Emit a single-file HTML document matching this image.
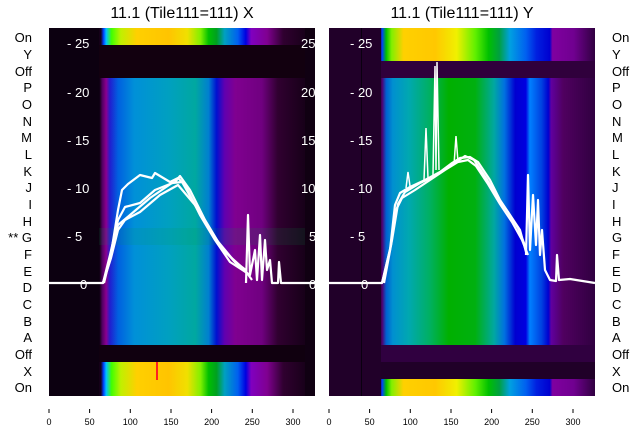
<!DOCTYPE html>
<html><head><meta charset="utf-8"><style>
body{margin:0;background:#fff;}
svg{display:block;font-family:"Liberation Sans","DejaVu Sans",sans-serif;}
</style></head><body>
<svg width="640" height="440" viewBox="0 0 640 440">
<defs>
<linearGradient id="lm" x1="0" x2="1">
<stop offset="0" stop-color="#0c0010"/><stop offset="0.19" stop-color="#0e0012"/>
<stop offset="0.20" stop-color="#500060"/><stop offset="0.215" stop-color="#8a0090"/>
<stop offset="0.23" stop-color="#2020d0"/><stop offset="0.26" stop-color="#0060e0"/>
<stop offset="0.32" stop-color="#0090d8"/><stop offset="0.45" stop-color="#00a0c0"/>
<stop offset="0.55" stop-color="#00a8a0"/><stop offset="0.60" stop-color="#0080d0"/>
<stop offset="0.63" stop-color="#0010d0"/><stop offset="0.66" stop-color="#6000b0"/>
<stop offset="0.70" stop-color="#800090"/><stop offset="0.80" stop-color="#700080"/>
<stop offset="0.86" stop-color="#300030"/><stop offset="1" stop-color="#0e0010"/>
</linearGradient>
<linearGradient id="lon" x1="0" x2="1">
<stop offset="0" stop-color="#0c0010"/><stop offset="0.195" stop-color="#150018"/>
<stop offset="0.205" stop-color="#0040ff"/><stop offset="0.215" stop-color="#00c0ff"/>
<stop offset="0.235" stop-color="#40ff00"/><stop offset="0.27" stop-color="#c0f000"/>
<stop offset="0.33" stop-color="#ffd000"/><stop offset="0.45" stop-color="#ffc400"/>
<stop offset="0.52" stop-color="#f0e000"/><stop offset="0.57" stop-color="#80f000"/>
<stop offset="0.60" stop-color="#00c000"/><stop offset="0.63" stop-color="#00a020"/>
<stop offset="0.66" stop-color="#00a0c0"/><stop offset="0.71" stop-color="#0060f0"/>
<stop offset="0.74" stop-color="#0000e0"/><stop offset="0.76" stop-color="#8000c0"/>
<stop offset="0.82" stop-color="#800090"/><stop offset="0.88" stop-color="#300030"/>
<stop offset="1" stop-color="#0e0010"/>
</linearGradient>
<linearGradient id="rm" x1="0" x2="1">
<stop offset="0" stop-color="#200028"/><stop offset="0.19" stop-color="#22002c"/>
<stop offset="0.20" stop-color="#500070"/><stop offset="0.215" stop-color="#0060d0"/>
<stop offset="0.24" stop-color="#0090d0"/><stop offset="0.30" stop-color="#00a8b0"/>
<stop offset="0.38" stop-color="#00b060"/><stop offset="0.45" stop-color="#00b000"/>
<stop offset="0.55" stop-color="#00b010"/><stop offset="0.62" stop-color="#00a8a0"/>
<stop offset="0.66" stop-color="#0070e0"/><stop offset="0.70" stop-color="#0000d0"/>
<stop offset="0.74" stop-color="#0000e0"/><stop offset="0.755" stop-color="#0080ff"/>
<stop offset="0.80" stop-color="#0040e0"/><stop offset="0.825" stop-color="#0000d0"/>
<stop offset="0.835" stop-color="#6000a0"/><stop offset="0.88" stop-color="#500060"/>
<stop offset="1" stop-color="#300040"/>
</linearGradient>
<linearGradient id="ron" x1="0" x2="1">
<stop offset="0" stop-color="#200028"/><stop offset="0.19" stop-color="#22002c"/>
<stop offset="0.20" stop-color="#0040ff"/><stop offset="0.215" stop-color="#00c000"/>
<stop offset="0.235" stop-color="#80f000"/><stop offset="0.28" stop-color="#ffd000"/>
<stop offset="0.40" stop-color="#ffc800"/><stop offset="0.48" stop-color="#f0f000"/>
<stop offset="0.55" stop-color="#60f000"/><stop offset="0.60" stop-color="#00c000"/>
<stop offset="0.64" stop-color="#00a040"/><stop offset="0.68" stop-color="#00a0e0"/>
<stop offset="0.74" stop-color="#0060f0"/><stop offset="0.78" stop-color="#0020e0"/>
<stop offset="0.83" stop-color="#0000d0"/><stop offset="0.84" stop-color="#8000a0"/>
<stop offset="0.92" stop-color="#700090"/><stop offset="1" stop-color="#300040"/>
</linearGradient>
</defs>

<!-- Left panel -->
<rect x="49" y="28" width="266" height="368" fill="#0e0010"/>
<rect x="49" y="28" width="266" height="17" fill="url(#lon)"/>
<rect x="49" y="45" width="266" height="33" fill="#12000f"/>
<rect x="49" y="78" width="266" height="267" fill="url(#lm)"/>
<rect x="49" y="228" width="266" height="17" fill="#00a040" opacity="0.12"/>
<rect x="49" y="345" width="266" height="17" fill="#10000f"/>
<rect x="49" y="362" width="266" height="34" fill="url(#lon)"/>
<rect x="49" y="28" width="50" height="368" fill="#0c0010"/>
<rect x="305" y="28" width="10" height="368" fill="#100012"/>
<rect x="156" y="362" width="2" height="18" fill="#ff2020"/>

<!-- Right panel -->
<rect x="329" y="28" width="266" height="368" fill="#200028"/>
<rect x="329" y="28" width="266" height="33" fill="url(#ron)"/>
<rect x="329" y="61" width="266" height="17" fill="#30003c"/>
<rect x="329" y="78" width="266" height="267" fill="url(#rm)"/>
<rect x="329" y="345" width="266" height="17" fill="#300040"/>
<rect x="329" y="362" width="266" height="17" fill="#200028"/>
<rect x="329" y="379" width="266" height="17" fill="url(#ron)"/>
<rect x="329" y="28" width="52" height="368" fill="#210029"/>
<rect x="361" y="28" width="1" height="368" fill="#0a0010"/>

<g fill="none" stroke="#fff" stroke-width="2.2" stroke-linejoin="round">
<polyline points="49,283 103,283 110,260 118,210 122,190 128,184 140,175 152,178 155,173 170,182 178,178 185,185 200,215 215,240 230,262 247,273 252,280"/>
<polyline points="103,283 110,255 118,220 125,207 140,203 155,190 175,182 180,176 190,190 205,220 220,245 240,268 250,275"/>
<polyline points="103,283 111,258 118,230 125,220 140,212 160,195 178,185 195,205 210,230 225,252 245,270"/>
<polyline points="104,283 118,225 130,215 150,198 172,183 182,182 198,210 215,238 235,262 246,270"/>
<polyline points="246,283 248,215 250,275 255,250 257,280 260,235 262,280 265,240 267,270 270,260 272,283 278,283 279,262 281,283 315,283"/>
<polyline points="329,283 382,283 390,250 395,205 400,193 410,187 425,180 440,172 452,163 460,158 470,157 478,162 490,180 500,200 510,215 520,230 526,252"/>
<polyline points="382,283 391,245 396,210 402,198 415,190 430,180 445,170 458,162 468,160 476,166 488,184 500,204 512,222 522,240 528,255"/>
<polyline points="384,283 392,240 398,204 405,192 420,183 435,176 450,166 465,156 474,160 486,178 498,198 508,212 518,228 526,248"/>
<polyline points="526,255 528,175 530,250 533,195 536,245 538,200 540,255 542,230 545,270 550,280 556,281 557,255 559,280 570,279 595,283"/>
</g>
<g fill="none" stroke="#fff" stroke-width="1.5">
<polyline points="424,180 426,128 428,178"/>
<polyline points="433,175 435,66 436,170 437,62 439,170"/>
<polyline points="406,188 408,172 410,186"/>
<polyline points="454,165 456,136 458,162"/>
</g>

<g fill="#fff" font-size="13">
<text x="67" y="48">- 25</text><text x="67" y="97">- 20</text><text x="67" y="145">- 15</text><text x="67" y="193">- 10</text><text x="67" y="241">- 5</text><text x="80" y="289">0</text>
<text x="301" y="48">25</text><text x="301" y="97">20</text><text x="301" y="145">15</text><text x="301" y="193">10</text><text x="309" y="241">5</text><text x="309" y="289">0</text>
<text x="350" y="48">- 25</text><text x="350" y="97">- 20</text><text x="350" y="145">- 15</text><text x="350" y="193">- 10</text><text x="350" y="241">- 5</text><text x="361" y="289">0</text>
</g>

<text x="182" y="18" font-size="16" text-anchor="middle" fill="#000">11.1 (Tile111=111) X</text>
<text x="462" y="18" font-size="16" text-anchor="middle" fill="#000">11.1 (Tile111=111) Y</text>

<g font-size="13" fill="#000">
<g text-anchor="end">
<text x="32" y="42">On</text><text x="32" y="59">Y</text><text x="32" y="76">Off</text><text x="32" y="92">P</text><text x="32" y="109">O</text><text x="32" y="126">N</text><text x="32" y="142">M</text><text x="32" y="159">L</text><text x="32" y="176">K</text><text x="32" y="192">J</text><text x="32" y="209">I</text><text x="32" y="226">H</text><text x="32" y="242">** G</text><text x="32" y="259">F</text><text x="32" y="276">E</text><text x="32" y="292">D</text><text x="32" y="309">C</text><text x="32" y="326">B</text><text x="32" y="342">A</text><text x="32" y="359">Off</text><text x="32" y="376">X</text><text x="32" y="392">On</text>
</g>
<text x="612" y="42">On</text><text x="612" y="59">Y</text><text x="612" y="76">Off</text><text x="612" y="92">P</text><text x="612" y="109">O</text><text x="612" y="126">N</text><text x="612" y="142">M</text><text x="612" y="159">L</text><text x="612" y="176">K</text><text x="612" y="192">J</text><text x="612" y="209">I</text><text x="612" y="226">H</text><text x="612" y="242">G</text><text x="612" y="259">F</text><text x="612" y="276">E</text><text x="612" y="292">D</text><text x="612" y="309">C</text><text x="612" y="326">B</text><text x="612" y="342">A</text><text x="612" y="359">Off</text><text x="612" y="376">X</text><text x="612" y="392">On</text>
</g>

<g stroke="#000" stroke-width="1">
<line x1="49" y1="409" x2="49" y2="413"/><line x1="89.6" y1="409" x2="89.6" y2="413"/><line x1="130.3" y1="409" x2="130.3" y2="413"/><line x1="171" y1="409" x2="171" y2="413"/><line x1="211.6" y1="409" x2="211.6" y2="413"/><line x1="252.3" y1="409" x2="252.3" y2="413"/><line x1="293" y1="409" x2="293" y2="413"/>
<line x1="329" y1="409" x2="329" y2="413"/><line x1="369.6" y1="409" x2="369.6" y2="413"/><line x1="410.3" y1="409" x2="410.3" y2="413"/><line x1="451" y1="409" x2="451" y2="413"/><line x1="491.6" y1="409" x2="491.6" y2="413"/><line x1="532.3" y1="409" x2="532.3" y2="413"/><line x1="573" y1="409" x2="573" y2="413"/>
</g>
<g font-size="9" fill="#000" text-anchor="middle">
<text x="49" y="425">0</text><text x="89.6" y="425">50</text><text x="130.3" y="425">100</text><text x="171" y="425">150</text><text x="211.6" y="425">200</text><text x="252.3" y="425">250</text><text x="293" y="425">300</text>
<text x="329" y="425">0</text><text x="369.6" y="425">50</text><text x="410.3" y="425">100</text><text x="451" y="425">150</text><text x="491.6" y="425">200</text><text x="532.3" y="425">250</text><text x="573" y="425">300</text>
</g>
</svg>
</body></html>
